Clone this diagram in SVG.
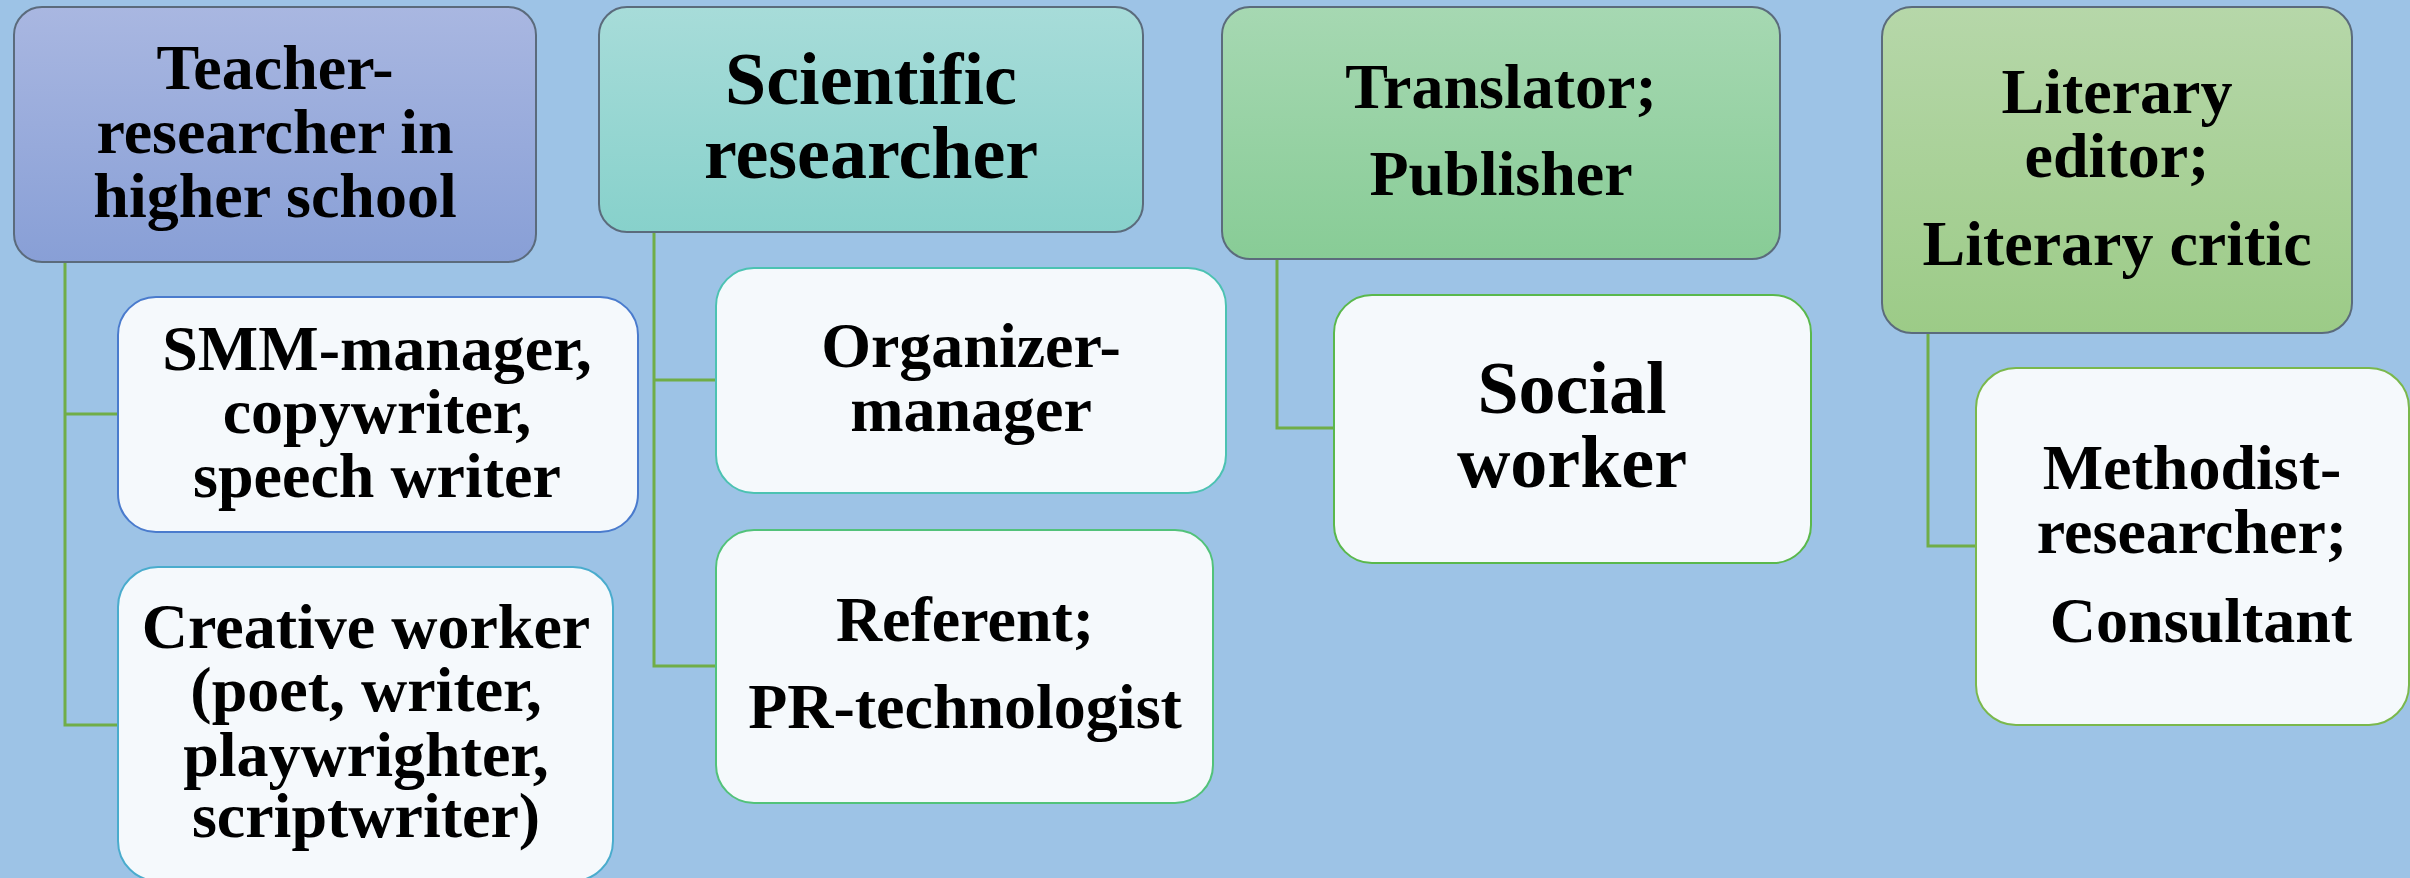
<svg xmlns="http://www.w3.org/2000/svg" width="2410" height="878" viewBox="0 0 2410 878">
<defs>
<linearGradient id="gBlue" x1="0" y1="0" x2="0" y2="1"><stop offset="0" stop-color="#a9b7e1"/><stop offset="1" stop-color="#889fd6"/></linearGradient>
<linearGradient id="gTeal" x1="0" y1="0" x2="0" y2="1"><stop offset="0" stop-color="#a7dcd9"/><stop offset="1" stop-color="#87d1cb"/></linearGradient>
<linearGradient id="gGreen" x1="0" y1="0" x2="0" y2="1"><stop offset="0" stop-color="#a6d8b2"/><stop offset="1" stop-color="#88cc96"/></linearGradient>
<linearGradient id="gOlive" x1="0" y1="0" x2="0" y2="1"><stop offset="0" stop-color="#b6d7a9"/><stop offset="1" stop-color="#9ccb87"/></linearGradient>
</defs>
<style>
.head{stroke:#5b6b7c;stroke-width:2}
.child{fill:#f5f9fc;stroke-width:2}
.t{font-family:"Liberation Serif","Times New Roman",serif;font-weight:bold;fill:#000;text-anchor:middle}
.f64{font-size:64px}
.f74{font-size:74px}
.conn{fill:none;stroke:#70ad47;stroke-width:3}
</style>
<rect width="2410" height="878" fill="#9dc3e6"/>
<g id="connectors">
<path class="conn" d="M65 262 V725 H118 M65 414 H118"/>
<path class="conn" d="M654 232 V666 H716 M654 380 H716"/>
<path class="conn" d="M1277 259 V428 H1334"/>
<path class="conn" d="M1928 333 V546 H1976"/>
</g>
<g id="teacher">
<rect class="head" x="14" y="7" width="522" height="255" rx="28" fill="url(#gBlue)"/>
<text class="t f64" x="275" y="89">Teacher-</text>
<text class="t f64" x="275" y="153">researcher in</text>
<text class="t f64" x="275" y="217">higher school</text>
</g>
<g id="scientific">
<rect class="head" x="599" y="7" width="544" height="225" rx="28" fill="url(#gTeal)"/>
<text class="t f74" x="871" y="104">Scientific</text>
<text class="t f74" x="871" y="178">researcher</text>
</g>
<g id="translator">
<rect class="head" x="1222" y="7" width="558" height="252" rx="28" fill="url(#gGreen)"/>
<text class="t f64" x="1501" y="108">Translator;</text>
<text class="t f64" x="1501" y="195">Publisher</text>
</g>
<g id="literary">
<rect class="head" x="1882" y="7" width="470" height="326" rx="30" fill="url(#gOlive)"/>
<text class="t f64" x="2117" y="113">Literary</text>
<text class="t f64" x="2117" y="177">editor;</text>
<text class="t f64" x="2117" y="265">Literary critic</text>
</g>
<g id="smm">
<rect class="child" x="118" y="297" width="520" height="235" rx="38" stroke="#4a7bcd"/>
<text class="t f64" x="377" y="370">SMM-manager,</text>
<text class="t f64" x="377" y="433">copywriter,</text>
<text class="t f64" x="377" y="497">speech writer</text>
</g>
<g id="creative">
<rect class="child" x="118" y="567" width="495" height="314" rx="40" stroke="#4aaccd"/>
<text class="t f64" x="366" y="648">Creative worker</text>
<text class="t f64" x="366" y="711">(poet, writer,</text>
<text class="t f64" x="366" y="776">playwrighter,</text>
<text class="t f64" x="366" y="837">scriptwriter)</text>
</g>
<g id="organizer">
<rect class="child" x="716" y="268" width="510" height="225" rx="38" stroke="#4cc2b2"/>
<text class="t f64" x="971" y="367">Organizer-</text>
<text class="t f64" x="971" y="431">manager</text>
</g>
<g id="referent">
<rect class="child" x="716" y="530" width="497" height="273" rx="38" stroke="#52c27a"/>
<text class="t f64" x="965" y="641">Referent;</text>
<text class="t f64" x="965" y="728">PR-technologist</text>
</g>
<g id="social">
<rect class="child" x="1334" y="295" width="477" height="268" rx="38" stroke="#5ab84c"/>
<text class="t f74" x="1572" y="413">Social</text>
<text class="t f74" x="1572" y="487">worker</text>
</g>
<g id="methodist">
<rect class="child" x="1976" y="368" width="433" height="357" rx="40" stroke="#7ab84c"/>
<text class="t f64" x="2192" y="489">Methodist-</text>
<text class="t f64" x="2192" y="553">researcher;</text>
<text class="t f64" x="2201" y="642">Consultant</text>
</g>
</svg>
